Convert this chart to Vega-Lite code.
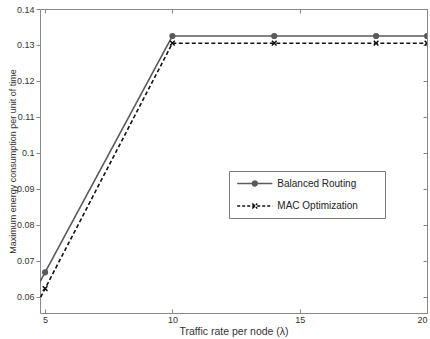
{
  "$schema": "https://vega.github.io/schema/vega-lite/v6.json",
  "width": 387,
  "height": 304,
  "autosize": "none",
  "padding": {"left": 40, "top": 9, "right": 3, "bottom": 26},
  "background": "white",
  "config": {
    "font": "Liberation Sans",
    "view": {"stroke": null},
    "axis": {
      "grid": false,
      "domainColor": "#888888",
      "tickColor": "#888888",
      "labelColor": "#333333",
      "titleColor": "#333333",
      "labelFont": "Liberation Sans",
      "titleFont": "Liberation Sans",
      "titleFontWeight": "normal",
      "labelFontSize": 9
    }
  },
  "data": {
    "values": [
      {"series": "Balanced Routing", "x": 4, "y": 0.0537},
      {"series": "Balanced Routing", "x": 5, "y": 0.0668},
      {"series": "Balanced Routing", "x": 10, "y": 0.1325},
      {"series": "Balanced Routing", "x": 14, "y": 0.1325},
      {"series": "Balanced Routing", "x": 18, "y": 0.1325},
      {"series": "Balanced Routing", "x": 20, "y": 0.1325},
      {"series": "MAC Optimization", "x": 4, "y": 0.0487},
      {"series": "MAC Optimization", "x": 5, "y": 0.0623},
      {"series": "MAC Optimization", "x": 10, "y": 0.1305},
      {"series": "MAC Optimization", "x": 14, "y": 0.1305},
      {"series": "MAC Optimization", "x": 18, "y": 0.1305},
      {"series": "MAC Optimization", "x": 20, "y": 0.1305}
    ]
  },
  "layer": [
    {
      "mark": {"type": "line", "clip": true, "strokeWidth": 1.6},
      "encoding": {
        "x": {"field": "x", "type": "quantitative",
          "scale": {"domain": [4.8, 20], "nice": false, "zero": false},
          "axis": {"values": [5, 10, 15, 20], "title": "Traffic rate per node (λ)", "titleFontSize": 10.5, "titlePadding": 2, "format": "d", "tickSize": -4, "labelPadding": 6}},
        "y": {"field": "y", "type": "quantitative",
          "scale": {"domain": [0.0555, 0.14], "nice": false, "zero": false},
          "axis": {"values": [0.06, 0.07, 0.08, 0.09, 0.1, 0.11, 0.12, 0.13, 0.14], "format": ".2~f", "title": "Maximum energy consumption per unit of time", "titleFontSize": 9, "titlePadding": -1, "tickSize": 4, "labelPadding": 2}},
        "color": {"field": "series", "type": "nominal",
          "scale": {"domain": ["Balanced Routing", "MAC Optimization"], "range": ["#5a5a5a", "#111111"]}, "legend": null},
        "strokeDash": {"field": "series", "type": "nominal",
          "scale": {"domain": ["Balanced Routing", "MAC Optimization"], "range": [[1, 0], [4, 2.5]]}, "legend": null}
      }
    },
    {
      "transform": [{"filter": "datum.x >= 5"}],
      "mark": {"type": "point", "clip": true, "filled": true, "strokeWidth": 1.5, "size": 22, "opacity": 1},
      "encoding": {
        "x": {"field": "x", "type": "quantitative", "axis": null},
        "y": {"field": "y", "type": "quantitative", "axis": null},
        "color": {"field": "series", "type": "nominal", "legend": null},
        "stroke": {"field": "series", "type": "nominal",
          "scale": {"domain": ["Balanced Routing", "MAC Optimization"], "range": ["#5a5a5a", "#111111"]}, "legend": null},
        "shape": {"field": "series", "type": "nominal",
          "scale": {"domain": ["Balanced Routing", "MAC Optimization"], "range": ["circle", "M-1,-1L1,1M-1,1L1,-1"]}, "legend": null}
      }
    },
    {
      "mark": {"type": "point", "opacity": 0, "filled": true, "strokeWidth": 1.5},
      "encoding": {
        "x": {"field": "x", "type": "quantitative", "axis": null},
        "y": {"field": "y", "type": "quantitative", "axis": null},
        "size": {"value": 121},
        "shape": {"field": "series", "type": "nominal",
          "scale": {"domain": ["Balanced Routing", "MAC Optimization"], "range": ["M-3.2,0H3.2M0,-0.45A0.45,0.45 0 1,1 0,0.45A0.45,0.45 0 1,1 0,-0.45Z", "M-3.2,0H3.2M-0.45,-0.45L0.45,0.45M-0.45,0.45L0.45,-0.45"]},
          "legend": {"title": null, "orient": "none", "legendX": 189, "legendY": 162, "direction": "vertical", "strokeColor": "#777777", "fillColor": "white", "padding": 6, "rowPadding": 10.5, "labelFontSize": 10, "labelColor": "#222222", "labelOffset": 16, "symbolOffset": 13.3, "symbolOpacity": 1, "symbolStrokeWidth": 1.5, "symbolSize": 121, "labelExpr": "datum.label + '\u2800\u2800\u2800'"}},
        "stroke": {"field": "series", "type": "nominal",
          "scale": {"domain": ["Balanced Routing", "MAC Optimization"], "range": ["#5a5a5a", "#111111"]},
          "legend": {"title": null, "orient": "none", "legendX": 189, "legendY": 162, "direction": "vertical", "strokeColor": "#777777", "fillColor": "white", "padding": 6, "rowPadding": 10.5, "labelFontSize": 10, "labelColor": "#222222", "labelOffset": 16, "symbolOffset": 13.3, "symbolOpacity": 1, "symbolStrokeWidth": 1.5, "symbolSize": 121, "labelExpr": "datum.label + '\u2800\u2800\u2800'"}},
        "fill": {"field": "series", "type": "nominal",
          "scale": {"domain": ["Balanced Routing", "MAC Optimization"], "range": ["#5a5a5a", "transparent"]},
          "legend": {"title": null, "orient": "none", "legendX": 189, "legendY": 162, "direction": "vertical", "strokeColor": "#777777", "fillColor": "white", "padding": 6, "rowPadding": 10.5, "labelFontSize": 10, "labelColor": "#222222", "labelOffset": 16, "symbolOffset": 13.3, "symbolOpacity": 1, "symbolStrokeWidth": 1.5, "symbolSize": 121, "labelExpr": "datum.label + '\u2800\u2800\u2800'"}},
        "strokeDash": {"field": "series", "type": "nominal",
          "scale": {"domain": ["Balanced Routing", "MAC Optimization"], "range": [[1, 0], [3, 2]]},
          "legend": {"title": null, "orient": "none", "legendX": 189, "legendY": 162, "direction": "vertical", "strokeColor": "#777777", "fillColor": "white", "padding": 6, "rowPadding": 10.5, "labelFontSize": 10, "labelColor": "#222222", "labelOffset": 16, "symbolOffset": 13.3, "symbolOpacity": 1, "symbolStrokeWidth": 1.5, "symbolSize": 121, "labelExpr": "datum.label + '\u2800\u2800\u2800'"}}
      }
    },
    {
      "mark": {"type": "point", "opacity": 0},
      "encoding": {
        "x": {"field": "x", "type": "quantitative",
          "axis": {"orient": "top", "values": [5, 10, 15, 20], "labels": false, "title": null, "tickSize": -4}},
        "y": {"field": "y", "type": "quantitative",
          "axis": {"orient": "right", "values": [0.06, 0.07, 0.08, 0.09, 0.1, 0.11, 0.12, 0.13, 0.14], "labels": false, "title": null, "tickSize": -4}}
      }
    }
  ],
  "resolve": {
    "axis": {"x": "independent", "y": "independent"},
    "scale": {"shape": "independent", "stroke": "independent", "fill": "independent", "strokeDash": "independent"},
    "legend": {"shape": "independent", "stroke": "independent", "fill": "independent", "strokeDash": "independent"}
  }
}
